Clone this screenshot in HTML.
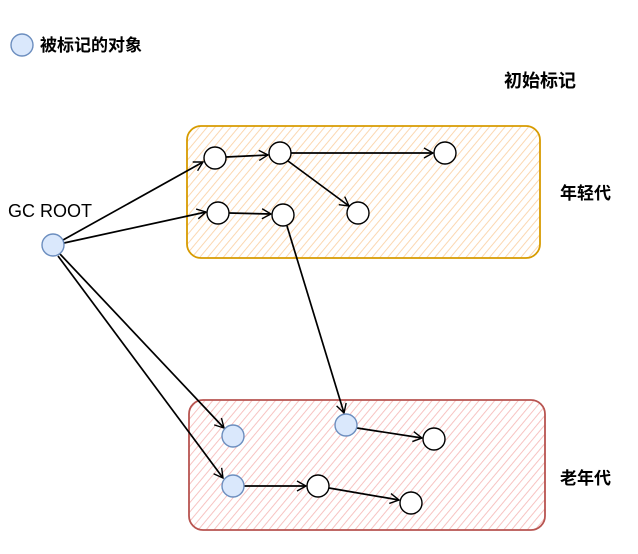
<!DOCTYPE html>
<html><head><meta charset="utf-8"><style>
html,body{margin:0;padding:0;background:#fff;width:638px;height:554px;overflow:hidden}
svg{display:block}
text{font-family:"Liberation Sans","Noto Sans CJK SC",sans-serif;font-weight:bold;fill:#000}
text.n{font-weight:normal}
</style></head><body>
<svg width="638" height="554" viewBox="0 0 638 554" xmlns="http://www.w3.org/2000/svg">
<defs>
<pattern id="hy" width="6" height="6" patternUnits="userSpaceOnUse" patternTransform="rotate(40)">
<line x1="0" y1="0" x2="0" y2="6" stroke="#fbd3a8" stroke-width="1.8"/></pattern>
<pattern id="hr" width="6" height="6" patternUnits="userSpaceOnUse" patternTransform="rotate(40)">
<line x1="0" y1="0" x2="0" y2="6" stroke="#f6bdbb" stroke-width="1.8"/></pattern>
<marker id="a" markerWidth="12" markerHeight="12" refX="10" refY="6" orient="auto" markerUnits="userSpaceOnUse">
<path d="M1,1 L10,6 L1,11" fill="none" stroke="#000" stroke-width="1.4"/></marker>
</defs>
<rect x="187" y="126" width="353" height="132" rx="14" fill="url(#hy)" stroke="#d79b00" stroke-width="1.8"/>
<rect x="189" y="400" width="356" height="130" rx="14" fill="url(#hr)" stroke="#b85450" stroke-width="1.8"/>
<g stroke="#000" stroke-width="1.7" fill="none" marker-end="url(#a)">
<line x1="63" y1="240" x2="203" y2="162"/>
<line x1="64" y1="243" x2="206" y2="212"/>
<line x1="60" y1="254" x2="224" y2="428"/>
<line x1="58" y1="256" x2="223" y2="478"/>
<line x1="226" y1="157" x2="268" y2="155"/>
<line x1="291" y1="153" x2="433" y2="153"/>
<line x1="288" y1="161" x2="349" y2="206"/>
<line x1="229" y1="213" x2="271" y2="214"/>
<line x1="287" y1="226" x2="344" y2="413"/>
<line x1="357" y1="428" x2="422" y2="438"/>
<line x1="244" y1="486" x2="306" y2="486"/>
<line x1="329" y1="488" x2="399" y2="500"/>
</g>
<g stroke="#000" stroke-width="1.4" fill="#fff">
<circle cx="215" cy="158" r="11"/><circle cx="280" cy="153" r="11"/><circle cx="445" cy="153" r="11"/>
<circle cx="358" cy="213" r="11"/><circle cx="218" cy="213" r="11"/><circle cx="283" cy="215" r="11"/>
<circle cx="434" cy="439" r="11"/><circle cx="318" cy="486" r="11"/><circle cx="411" cy="503" r="11"/>
</g>
<g stroke="#6c8ebf" stroke-width="1.4" fill="#dae8fc">
<circle cx="22" cy="45" r="11"/><circle cx="53" cy="245" r="11"/>
<circle cx="233" cy="436" r="11"/><circle cx="346" cy="425" r="11"/><circle cx="233" cy="486" r="11"/>
</g>
<text x="40" y="51" font-size="17">被标记的对象</text>
<text x="504" y="87" font-size="18">初始标记</text>
<text class="n" x="8" y="217" font-size="18">GC ROOT</text>
<text x="560" y="199" font-size="17">年轻代</text>
<text x="560" y="484" font-size="17">老年代</text>
</svg>
</body></html>
